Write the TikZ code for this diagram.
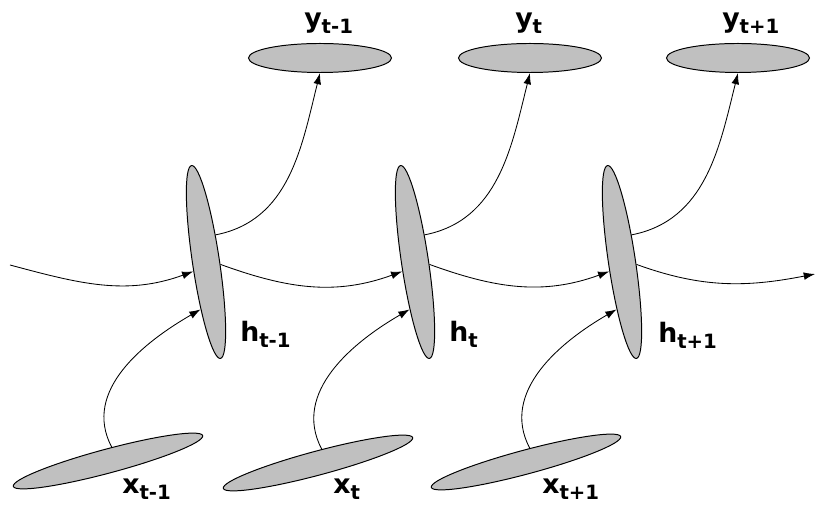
\documentclass[tikz,border=0pt]{standalone}
\usepackage{fontspec}
\setmainfont{DejaVu Sans}
\usetikzlibrary{arrows.meta,shapes.geometric}
\definecolor{cellgray}{RGB}{192,192,192}
\newcommand{\lowsub}[1]{\raisebox{-4pt}{\fontsize{14}{16}\selectfont #1}}

\begin{document}
\begin{tikzpicture}[x=0.025cm,y=0.025cm,
    cell/.style={ellipse,draw,fill=cellgray,line width=0.7pt,inner sep=0pt},
    outcell/.style={cell,minimum width=3.575cm,minimum height=0.725cm},
    hidcell/.style={cell,minimum width=0.675cm,minimum height=4.875cm,rotate=8.5},
    incell/.style={cell,minimum width=4.9cm,minimum height=0.6cm,rotate=15},
    lbl/.style={anchor=base west,inner sep=0pt,font=\fontsize{19}{22}\selectfont\bfseries},
    arr/.style={line width=0.6pt,-{Latex[length=8pt,width=5.5pt]}}]
    \useasboundingbox (0,0) rectangle (817,506);

    % Output layer
    \node[outcell] (yA) at (320,448) {};
    \node[outcell] (yB) at (530,448) {};
    \node[outcell] (yC) at (738,448) {};

    % Hidden layer
    \node[hidcell] (hA) at (206,244) {};
    \node[hidcell] (hB) at (415,244) {};
    \node[hidcell] (hC) at (622,244) {};

    % Input layer
    \node[incell] (xA) at (108,45) {};
    \node[incell] (xB) at (318,43) {};
    \node[incell] (xC) at (526,44) {};

    % Recurrent connections
    \coordinate (inL) at (10,241);
    \coordinate (outR) at (815,232);
    \draw[arr] (inL) to[out=-15,in=-160] (hA.-152);
    \draw[arr] (hA.-18) to[out=-20,in=-160] (hB.-152);
    \draw[arr] (hB.-18) to[out=-20,in=-160] (hC.-152);
    \draw[arr] (hC.-18) to[out=-20,in=-169] (outR);

    % Input to hidden
    \draw[arr] (xA.60) to[out=118,in=-150] (hA.-105);
    \draw[arr] (xB.60) to[out=118,in=-150] (hB.-105);
    \draw[arr] (xC.60) to[out=118,in=-150] (hC.-105);

    % Hidden to output
    \draw[arr] (hA.62) to[out=11,in=-104] (yA.south);
    \draw[arr] (hB.62) to[out=11,in=-104] (yB.south);
    \draw[arr] (hC.62) to[out=11,in=-104] (yC.south);

    % Labels
    \node[lbl] (yAl) at (304,478) {y\lowsub{t-1}};
    \node[lbl] (yBl) at (515,478) {y\lowsub{t}};
    \node[lbl] (yCl) at (722,478) {y\lowsub{t+1}};
    \node[lbl] (hAl) at (240,164) {h\lowsub{t-1}};
    \node[lbl] (hBl) at (449,164) {h\lowsub{t}};
    \node[lbl] (hCl) at (658,163) {h\lowsub{t+1}};
    \node[lbl] (xAl) at (122,12) {x\lowsub{t-1}};
    \node[lbl] (xBl) at (333,12) {x\lowsub{t}};
    \node[lbl] (xCl) at (542,12) {x\lowsub{t+1}};
\end{tikzpicture}
\end{document}
